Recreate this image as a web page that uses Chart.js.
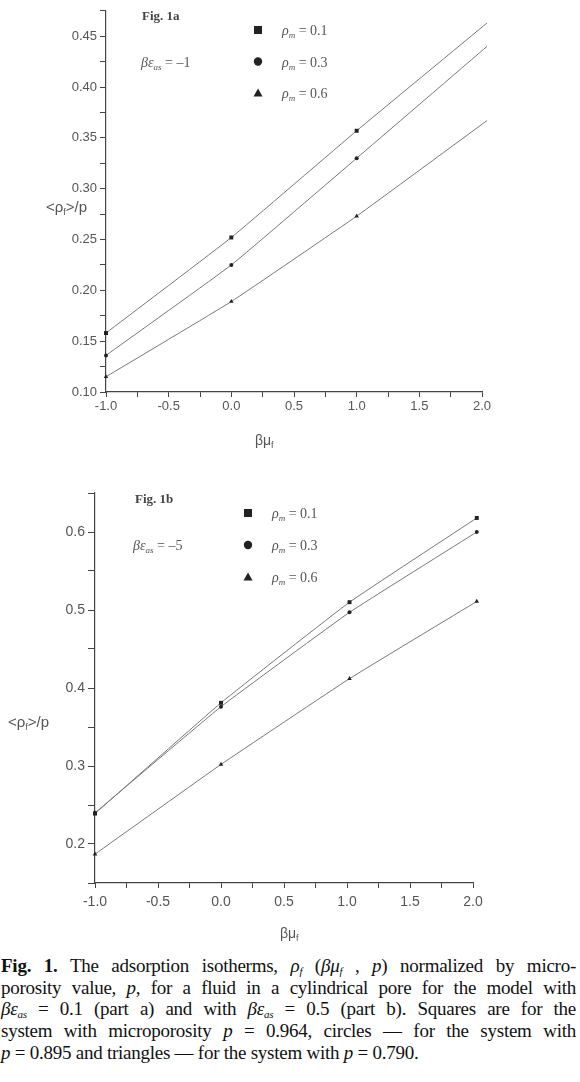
<!DOCTYPE html>
<html>
<head>
<meta charset="utf-8">
<script src="https://cdn.jsdelivr.net/npm/chart.js@4.4.1/dist/chart.umd.min.js"></script>
<style>
  html, body { margin: 0; padding: 0; background: #fff; }
  body { width: 580px; height: 1082px; position: relative; overflow: hidden; }
  .box { position: absolute; left: 0; width: 580px; }
  #cap { position: absolute; left: 1px; top: 955px; width: 575px;
         font-family: "Liberation Serif", "Times New Roman", serif; font-size: 19px;
         letter-spacing: -0.25px; line-height: 21.7px; color: #111; }
  #cap .j { text-align: justify; text-align-last: justify; white-space: nowrap; }
  #cap sub { font-size: 11px; vertical-align: -3px; line-height: 0; }
</style>
</head>
<body>
<div class="box" style="top:0;height:460px"><canvas id="figA" width="580" height="460"></canvas></div>
<div class="box" style="top:470px;height:480px"><canvas id="figB" width="580" height="480"></canvas></div>
<div id="cap">
  <div class="j"><b>Fig. 1.</b> The adsorption isotherms, <i>ρ<sub>f</sub></i> (<i>βμ<sub>f</sub></i> , <i>p</i>) normalized by micro-</div>
  <div class="j">porosity value, <i>p</i>, for a fluid in a cylindrical pore for the model with</div>
  <div class="j"><i>βε<sub>as</sub></i> = 0.1 (part a) and with <i>βε<sub>as</sub></i> = 0.5 (part b). Squares are for the</div>
  <div class="j">system with microporosity <i>p</i> = 0.964, circles — for the system with</div>
  <div><i>p</i> = 0.895 and triangles — for the system with <i>p</i> = 0.790.</div>
</div>
<script>
// Fig. 1a, beta*eps_as = -1
const muA = [-1, 0, 1, 2.04];
const squaresA = [0.158, 0.252, 0.357, 0.463];
const circlesA = [0.136, 0.225, 0.330, 0.440];
const trianglesA = [0.115, 0.189, 0.273, 0.367];

// Fig. 1b, beta*eps_as = -5
const muB = [-1, 0, 1.02, 2.03];
const squaresB = [0.239, 0.381, 0.510, 0.618];
const circlesB = [0.240, 0.376, 0.497, 0.600];
const trianglesB = [0.187, 0.302, 0.412, 0.511];

const rhoM = ['0.1', '0.3', '0.6'];
const markers = ['rect', 'circle', 'triangle'];

const INK = '#444';
const SANS = '"Liberation Sans", Arial, sans-serif';
const SERIF = '"Liberation Serif", "Times New Roman", serif';

// draw a run of text pieces (for subscripts)
function drawRich(ctx, parts, x, y) {
  parts.forEach(p => {
    ctx.font = p.font;
    ctx.fillStyle = p.color || '#555';
    ctx.fillText(p.t, x, y + (p.dy || 0));
    x += ctx.measureText(p.t).width;
  });
}

function drawMarker(ctx, style, x, y) {
  ctx.fillStyle = '#222';
  ctx.beginPath();
  if (style === 'rect') ctx.rect(x - 4, y - 4, 8, 8);
  else if (style === 'circle') ctx.arc(x, y, 4.2, 0, Math.PI * 2);
  else { ctx.moveTo(x, y - 4.5); ctx.lineTo(x + 4.5, y + 3.5); ctx.lineTo(x - 4.5, y + 3.5); ctx.closePath(); }
  ctx.fill();
}

const notes = {
  id: 'notes',
  afterDraw(chart, args, o) {
    const ctx = chart.ctx;
    ctx.save();
    ctx.textBaseline = 'alphabetic';
    drawRich(ctx, [{ t: o.fig, font: 'bold 13px ' + SERIF, color: INK }], o.figX, o.figY);
    drawRich(ctx, [
      { t: 'βε', font: 'italic 14px ' + SERIF },
      { t: 'as', font: 'italic 9px ' + SERIF, dy: 3 },
      { t: ' = ' + o.eps, font: '14px ' + SERIF }
    ], o.epsX, o.epsY);
    rhoM.forEach((r, i) => {
      const y = o.legY + i * o.legGap;
      drawMarker(ctx, markers[i], o.legX, y);
      drawRich(ctx, [
        { t: 'ρ', font: 'italic 14px ' + SERIF },
        { t: 'm', font: 'italic 9px ' + SERIF, dy: 3 },
        { t: ' = ' + r, font: '14px ' + SERIF }
      ], o.legX + 24, y + 5);
    });
    drawRich(ctx, [
      { t: '<ρ', font: '15px ' + SANS },
      { t: 'f', font: '9px ' + SANS, dy: 3 },
      { t: '>/p', font: '15px ' + SANS }
    ], o.ytX, o.ytY);
    drawRich(ctx, [
      { t: 'βμ', font: '14px ' + SANS },
      { t: 'f', font: '9px ' + SANS, dy: 3 }
    ], o.xtX, o.xtY);
    ctx.restore();
  }
};

function series(xs, ys, style, r) {
  return {
    data: xs.map((x, i) => ({ x: x, y: ys[i] })),
    borderColor: '#777',
    borderWidth: 1,
    pointStyle: style,
    pointRadius: r,
    pointBackgroundColor: '#222',
    pointBorderWidth: 0,
    tension: 0.1,
    clip: false
  };
}

function build(id, c) {
  const half = (v, step) => Math.round(v / step) % 2 === 0;
  new Chart(document.getElementById(id), {
    type: 'line',
    data: {
      datasets: [
        series(c.mu, c.sq, 'rect', 2.8),
        series(c.mu, c.ci, 'circle', 2),
        series(c.mu, c.tr, 'triangle', 2.6)
      ]
    },
    options: {
      responsive: false,
      animation: false,
      devicePixelRatio: 1,
      layout: { padding: { left: 0, top: c.top, right: c.right, bottom: 0 } },
      plugins: { legend: { display: false }, tooltip: { enabled: false }, notes: c.notes },
      scales: {
        x: {
          type: 'linear', min: -1, max: 2,
          afterFit: s => { s.height = c.xh; },
          border: { color: INK, width: 1.2 },
          grid: { drawOnChartArea: false, tickLength: 5, color: INK },
          ticks: {
            stepSize: 0.25, autoSkip: false, maxRotation: 0, padding: c.xpad,
            color: '#555', font: { family: SANS, size: c.fs },
            callback: v => half(v, 0.25) ? (Math.round(v * 4) / 4 + 0).toFixed(1) : ''
          }
        },
        y: {
          type: 'linear', min: c.ymin, max: c.ymax,
          afterFit: s => { s.width = c.left; },
          border: { color: INK, width: 1.2 },
          grid: { drawOnChartArea: false, tickLength: c.ytl, color: INK },
          ticks: {
            stepSize: c.ystep, includeBounds: false, autoSkip: false, padding: 3,
            color: '#555', font: { family: SANS, size: c.fs },
            callback: v => half(v, c.ystep) ? (+v).toFixed(c.ydec) : ''
          }
        }
      }
    },
    plugins: [notes]
  });
}

build('figA', {
  mu: muA, sq: squaresA, ci: circlesA, tr: trianglesA,
  ymin: 0.10, ymax: 0.475, ystep: 0.025, ydec: 2,
  left: 106, top: 1, right: 98, xh: 68, xpad: 2, ytl: 6, fs: 13,
  notes: { fig: 'Fig. 1a', figX: 142, figY: 20, eps: '–1', epsX: 141, epsY: 67,
           legX: 258, legY: 30, legGap: 31.5, ytX: 46, ytY: 212, xtX: 255, xtY: 445 }
});

build('figB', {
  mu: muB, sq: squaresB, ci: circlesB, tr: trianglesB,
  ymin: 0.15, ymax: 0.65, ystep: 0.05, ydec: 1,
  left: 95, top: 23, right: 107, xh: 67, xpad: 6, ytl: 7, fs: 14,
  notes: { fig: 'Fig. 1b', figX: 135, figY: 33, eps: '–5', epsX: 133, epsY: 80,
           legX: 248, legY: 43, legGap: 32, ytX: 8, ytY: 257, xtX: 280, xtY: 468 }
});
</script>
</body>
</html>
